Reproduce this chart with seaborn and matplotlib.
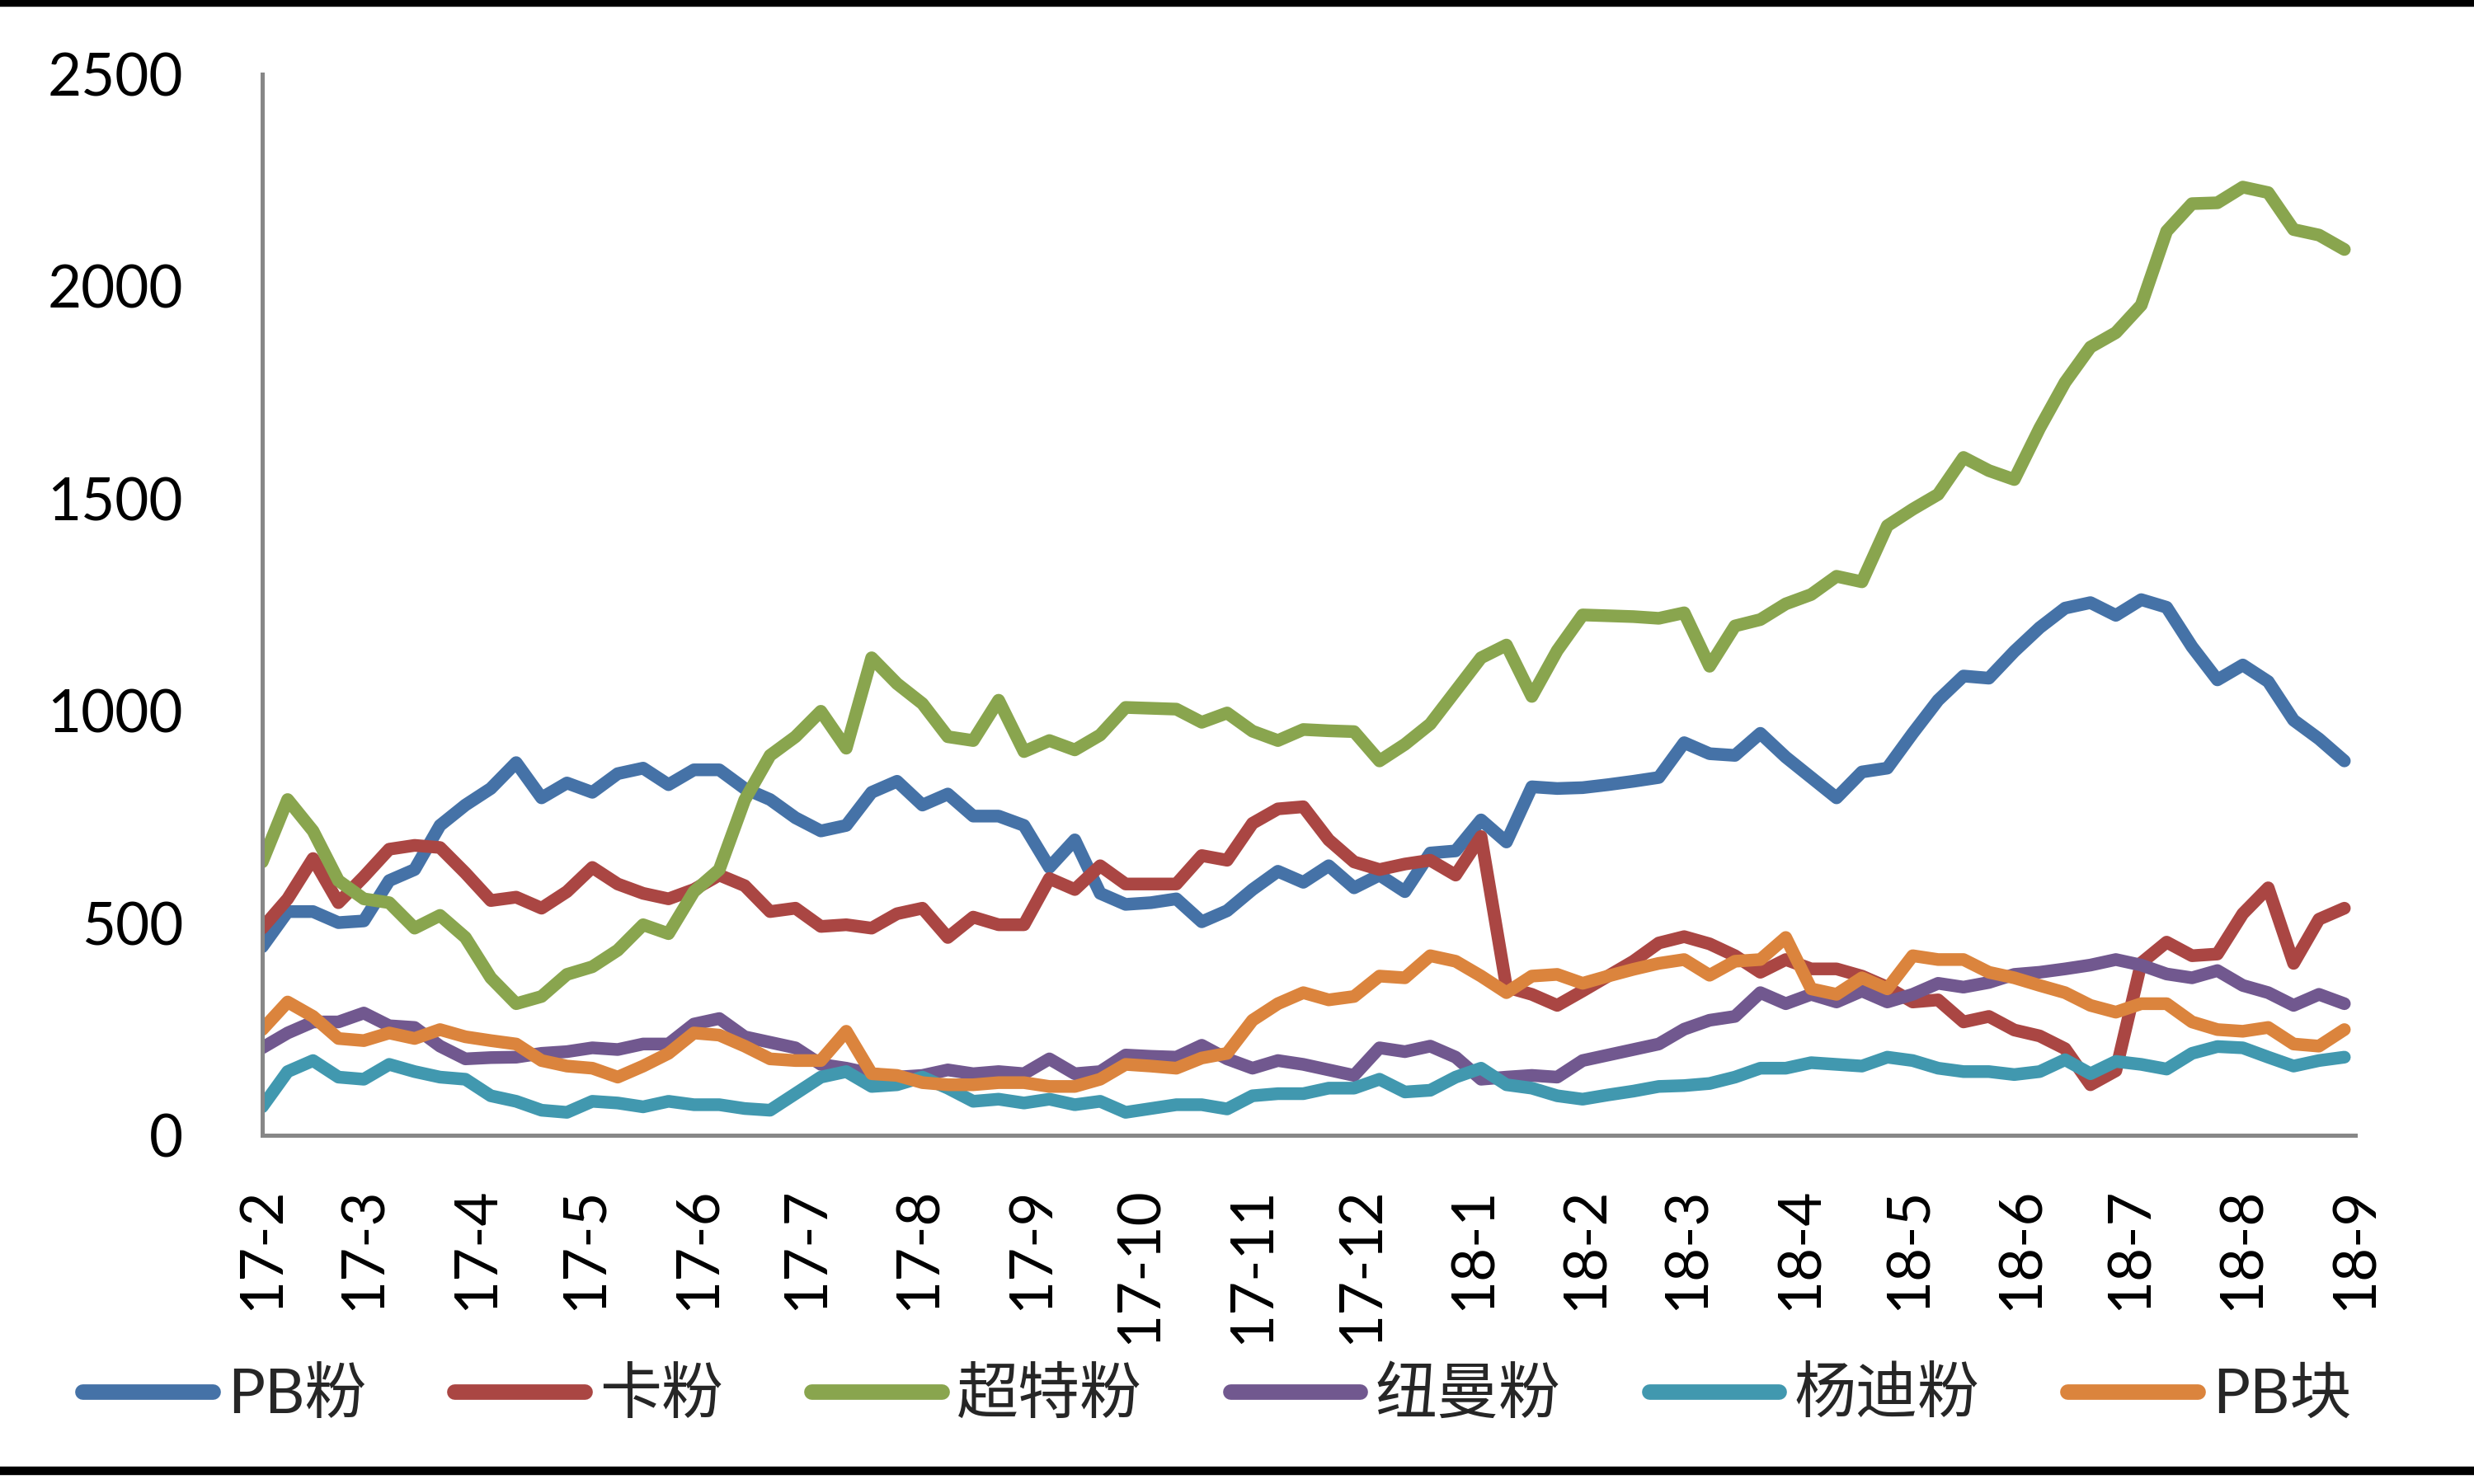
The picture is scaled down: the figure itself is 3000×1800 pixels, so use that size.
import numpy as np
import pandas as pd
import matplotlib
matplotlib.use('Agg')
import matplotlib.pyplot as plt
from matplotlib.lines import Line2D
import seaborn as sns

# weekly port inventory series, Feb 2017 - Aug 2018
weeks = pd.date_range('2017-02-01', periods=83, freq='7D')
months = pd.date_range('2017-02-01', '2018-09-01', freq='MS')
month_labels = [f'{d.year % 100}-{d.month}' for d in months]

names = ['PB粉', '卡粉', '超特粉', '纽曼粉', '杨迪粉', 'PB块']
colors = ['#4572A7', '#AA4643', '#89A54E', '#71588F', '#4198AF', '#DB843D']

pb_fines = [444, 527, 527, 501, 505, 600, 626, 730, 778, 817, 878, 795, 830, 808, 852, 865, 826, 861, 861, 817,
            791, 748, 717, 730, 808, 834, 778, 804, 752, 752, 730, 631, 696, 570, 544, 548, 557, 503, 529,
            579, 622, 596, 635, 583, 613, 574, 665, 670, 743, 691, 821, 817, 819, 826, 834, 843, 925, 899,
            895, 947, 891, 843, 795, 856, 865, 947, 1025, 1082, 1077, 1140, 1196, 1242, 1255, 1225, 1262, 1244,
            1151, 1073, 1108, 1069, 978, 934, 882]
carajas = [488, 557, 652, 548, 609, 674, 683, 678, 618, 553, 561, 535, 574, 631, 592, 570, 557, 579, 613, 588,
           527, 535, 492, 496, 488, 522, 535, 466, 514, 496, 496, 605, 579, 635, 592, 592, 592, 659, 648,
           735, 769, 774, 696, 644, 626, 639, 648, 613, 704, 349, 332, 306, 340, 375, 410, 453, 468, 451,
           423, 384, 414, 392, 392, 375, 349, 314, 319, 267, 280, 248, 234, 204, 119, 152, 406, 455,
           423, 427, 522, 583, 405, 509, 535]
super_special = [644, 791, 717, 600, 557, 548, 488, 518, 466, 371, 310, 327, 379, 397, 436, 496, 475, 574, 626, 790,
                 895, 939, 999, 912, 1125, 1064, 1017, 939, 930, 1025, 904, 930, 908, 943, 1008, 1006, 1004, 973, 995,
                 952, 930, 956, 953, 951, 882, 921, 969, 1047, 1125, 1155, 1034, 1142, 1226, 1224, 1222, 1218, 1231, 1105,
                 1200, 1215, 1252, 1274, 1317, 1304, 1436, 1475, 1510, 1597, 1566, 1545, 1666, 1774, 1857, 1891, 1956, 2130,
                 2195, 2197, 2234, 2221, 2134, 2121, 2087]
newman = [206, 241, 267, 267, 288, 258, 254, 210, 180, 183, 184, 193, 197, 206, 202, 215, 215, 262, 275, 232,
          219, 206, 167, 158, 145, 137, 141, 154, 145, 150, 145, 180, 145, 150, 189, 186, 184, 212, 180,
          158, 176, 167, 154, 141, 206, 197, 210, 184, 132, 137, 141, 137, 176, 189, 202, 215, 250, 271,
          280, 336, 310, 332, 314, 340, 314, 332, 358, 349, 360, 379, 384, 392, 401, 414, 401, 380,
          371, 388, 353, 336, 306, 332, 310]
yandi = [67, 150, 176, 137, 132, 167, 150, 137, 132, 93, 80, 59, 54, 80, 76, 67, 80, 72, 72, 63,
         59, 98, 137, 150, 115, 119, 137, 111, 80, 85, 76, 85, 72, 80, 54, 63, 72, 72, 62,
         93, 98, 98, 111, 111, 132, 102, 106, 137, 158, 119, 111, 93, 85, 95, 104, 115, 117, 122,
         137, 158, 158, 171, 167, 163, 184, 176, 158, 150, 150, 143, 150, 178, 145, 174, 167, 156,
         193, 209, 206, 184, 163, 176, 184]
pb_lump = [249, 314, 280, 228, 223, 241, 228, 249, 232, 223, 215, 176, 163, 158, 137, 163, 193, 241, 236, 210,
           180, 176, 176, 245, 145, 141, 124, 119, 119, 124, 124, 115, 115, 132, 167, 163, 158, 182, 193,
           271, 310, 336, 319, 327, 375, 371, 423, 410, 375, 336, 375, 379, 358, 375, 391, 405, 414, 377,
           410, 414, 466, 345, 332, 371, 345, 423, 414, 414, 384, 371, 353, 336, 306, 290, 310, 310,
           267, 249, 245, 254, 215, 210, 249]

series = [pb_fines, carajas, super_special, newman, yandi, pb_lump]
df = pd.concat([pd.DataFrame({'week': weeks, 'value': vals, 'name': nm})
                for nm, vals in zip(names, series)], ignore_index=True)

sns.set_style('white')
plt.rcParams['font.family'] = ['Lato', 'Noto Sans CJK SC', 'DejaVu Sans']

fig = plt.figure(figsize=(10, 6), dpi=300)
ax = fig.add_axes([0.106, 0.235, 0.846, 0.715])

sns.lineplot(data=df, x='week', y='value', hue='name', hue_order=names,
             palette=colors, linewidth=3.7, sort=False, legend=False, ax=ax)
for line in ax.get_lines():
    line.set_solid_joinstyle('round')
    line.set_solid_capstyle('round')

ax.set_xlim(weeks[0], months[-1])
ax.set_ylim(0, 2500)
ax.set_yticks(np.arange(0, 2501, 500))
ax.set_xticks(months)
ax.set_xticklabels(month_labels, rotation=90)
ax.set_xlabel('')
ax.set_ylabel('')

for side in ['top', 'right']:
    ax.spines[side].set_visible(False)
for side in ['left', 'bottom']:
    ax.spines[side].set_color('#878787')
    ax.spines[side].set_linewidth(1.2)
ax.tick_params(axis='both', direction='in', length=6.5, width=1.0,
               color='#878787', labelsize=17, labelcolor='black')
ax.tick_params(axis='y', pad=23)
ax.tick_params(axis='x', pad=15)

handles = [Line2D([], [], color=c, linewidth=4.5, solid_capstyle='round') for c in colors]
fig.legend(handles, names, loc='center', bbox_to_anchor=(0.492, 0.06), ncol=6,
           frameon=False, fontsize=18, handlelength=2.1, handletextpad=0.25,
           columnspacing=1.42)

fig.add_artist(Line2D([0, 1], [0.9985, 0.9985], color='black', linewidth=2.5,
                      transform=fig.transFigure))
fig.add_artist(Line2D([0, 1], [0.009, 0.009], color='black', linewidth=2.5,
                      transform=fig.transFigure))

fig.savefig('out.png', dpi=300)
